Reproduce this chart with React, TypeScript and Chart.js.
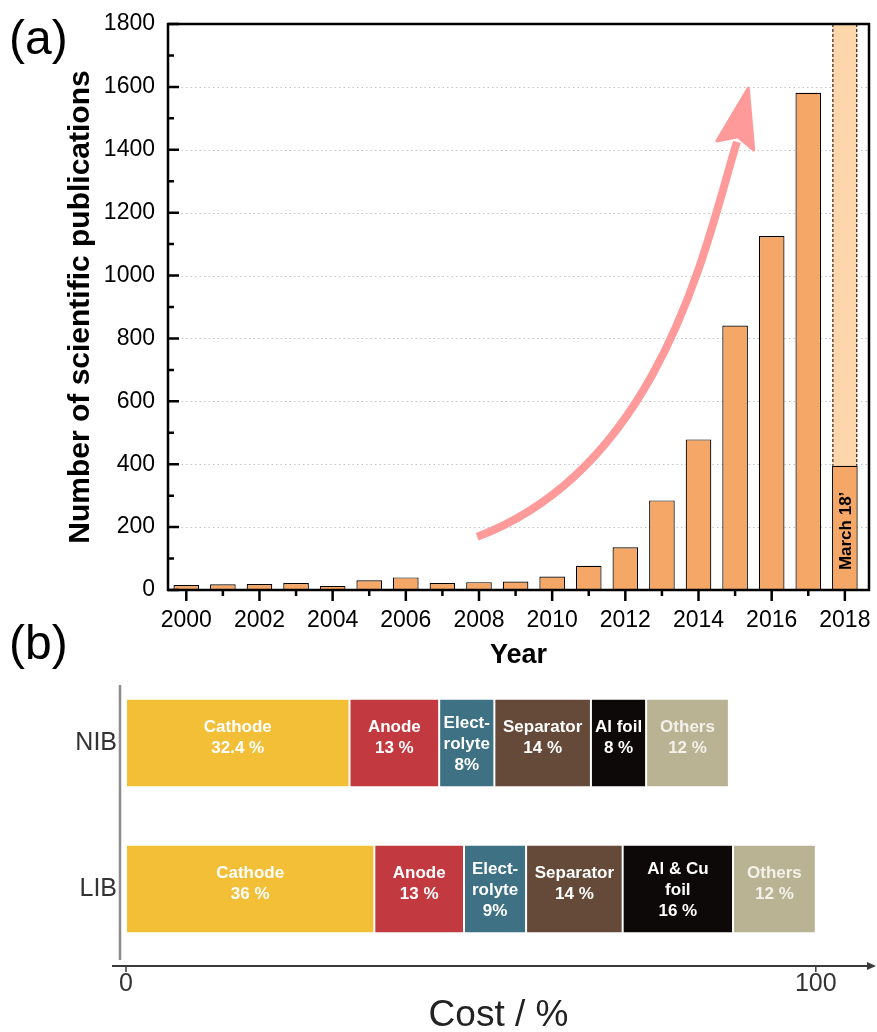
import React, { useEffect, useRef } from 'react';
import { Chart, registerables } from 'chart.js';

Chart.register(...registerables);

// ---------- Panel (a) data ----------
const years = [2000, 2001, 2002, 2003, 2004, 2005, 2006, 2007, 2008, 2009, 2010, 2011, 2012, 2013, 2014, 2015, 2016, 2017, 2018];
const publications = [16, 18, 19, 22, 13, 31, 40, 22, 25, 27, 43, 77, 136, 285, 479, 841, 1126, 1581, 395];
const projectionYear = 2018;
const projectionValue = 1800;
const projectionNote = 'March 18\u2019';
const yMax = 1800;
const yStep = 200;
const xMin = 1999.5;
const xMax = 2018.66;
const xStep = 2;
// trend arrow annotation, in data units (year, publications)
const arrowPath = [[2007.95, 169], [2013.06, 394], [2014.26, 1129], [2015.05, 1425]];
const arrowHead = [[2015.36, 1596], [2015.51, 1399], [2015.08, 1441], [2014.5, 1428]];

// ---------- Panel (b) data ----------
const batteryTypes = ['NIB', 'LIB'];
const componentNames = ['Cathode', 'Anode', 'Electrolyte', 'Separator', 'Foil', 'Others'];
const nibCost = [32.4, 13, 8, 14, 8, 12];
const libCost = [36, 13, 9, 14, 16, 12];
const nibLabels = [['Cathode', '32.4 %'], ['Anode', '13 %'], ['Elect-', 'rolyte', '8%'], ['Separator', '14 %'], ['Al foil', '8 %'], ['Others', '12 %']];
const libLabels = [['Cathode', '36 %'], ['Anode', '13 %'], ['Elect-', 'rolyte', '9%'], ['Separator', '14 %'], ['Al & Cu', 'foil', '16 %'], ['Others', '12 %']];
const componentColors = ['#F2BF37', '#C23A40', '#3E7184', '#654A3A', '#0D0908', '#B9B293'];
const componentTextColors = ['#ffffff', '#ffffff', '#ffffff', '#ffffff', '#ffffff', '#f3f1ea'];
const costTicks = [0, 100];
const costMax = 108;

const FONT = "'Liberation Sans', Arial, Helvetica, sans-serif";

const noPad = (s: any) => {
  s.paddingTop = 0;
  s.paddingBottom = 0;
  s.paddingLeft = 0;
  s.paddingRight = 0;
};

const frameA = {
  id: 'frameA',
  beforeDatasetsDraw(chart: any) {
    const { ctx, chartArea: ca, scales } = chart;
    const y = scales.y;
    ctx.save();
    ctx.strokeStyle = '#c6c6c6';
    ctx.lineWidth = 1;
    ctx.setLineDash([1.5, 3]);
    y.ticks.forEach((t: any) => {
      if (t.value <= 0 || t.value >= yMax) return;
      const py = Math.round(y.getPixelForValue(t.value)) + 0.5;
      ctx.beginPath();
      ctx.moveTo(ca.left, py);
      ctx.lineTo(ca.right, py);
      ctx.stroke();
    });
    ctx.restore();
  },
  afterDatasetsDraw(chart: any) {
    const { ctx, chartArea: ca, scales } = chart;
    const x = scales.x;
    const y = scales.y;
    ctx.save();

    // dashed outline of the projected 2018 bar
    const proj = chart.getDatasetMeta(1).data[0];
    const real = chart.getDatasetMeta(0).data[years.indexOf(projectionYear)];
    if (proj && real) {
      const p = proj.getProps(['x', 'y', 'width']);
      const r = real.getProps(['y']);
      ctx.strokeStyle = '#000';
      ctx.lineWidth = 1;
      ctx.setLineDash([3, 2]);
      [p.x - p.width / 2 + 0.5, p.x + p.width / 2 - 0.5].forEach((lx) => {
        ctx.beginPath();
        ctx.moveTo(lx, Math.max(p.y, ca.top));
        ctx.lineTo(lx, r.y);
        ctx.stroke();
      });
      ctx.setLineDash([]);
      // vertical note inside the bar
      const rr = real.getProps(['x', 'y', 'base']);
      ctx.save();
      ctx.translate(rr.x + 1, (rr.y + rr.base) / 2 + 3);
      ctx.rotate(-Math.PI / 2);
      ctx.fillStyle = '#000';
      ctx.font = `bold 17px ${FONT}`;
      ctx.textAlign = 'center';
      ctx.textBaseline = 'middle';
      ctx.fillText(projectionNote, 0, 0);
      ctx.restore();
    }

    // trend arrow
    const P = (d: number[]) => [x.getPixelForValue(d[0]), y.getPixelForValue(d[1])];
    const a = arrowPath.map(P);
    ctx.strokeStyle = '#FF9A9A';
    ctx.fillStyle = '#FF9A9A';
    ctx.lineWidth = 8;
    ctx.lineCap = 'butt';
    ctx.beginPath();
    ctx.moveTo(a[0][0], a[0][1]);
    ctx.bezierCurveTo(a[1][0], a[1][1], a[2][0], a[2][1], a[3][0], a[3][1]);
    ctx.stroke();
    const h = arrowHead.map(P);
    ctx.lineWidth = 3;
    ctx.lineJoin = 'round';
    ctx.beginPath();
    ctx.moveTo(h[0][0], h[0][1]);
    for (let i = 1; i < h.length; i++) ctx.lineTo(h[i][0], h[i][1]);
    ctx.closePath();
    ctx.fill();
    ctx.stroke();

    // frame
    ctx.strokeStyle = '#000';
    ctx.lineWidth = 2.5;
    ctx.lineJoin = 'miter';
    ctx.strokeRect(ca.left, ca.top, ca.right - ca.left, ca.bottom - ca.top);

    // y ticks (inside)
    const yt = y.ticks.map((t: any) => t.value);
    ctx.beginPath();
    yt.forEach((v: number, i: number) => {
      const py = y.getPixelForValue(v);
      ctx.moveTo(ca.left, py);
      ctx.lineTo(ca.left + 11, py);
      if (i < yt.length - 1) {
        const pm = y.getPixelForValue((v + yt[i + 1]) / 2);
        ctx.moveTo(ca.left, pm);
        ctx.lineTo(ca.left + 6, pm);
      }
    });
    // x ticks (outside)
    const xt = x.ticks.map((t: any) => t.value);
    xt.forEach((v: number, i: number) => {
      const px = x.getPixelForValue(v);
      ctx.moveTo(px, ca.bottom);
      ctx.lineTo(px, ca.bottom + 11);
      if (i < xt.length - 1) {
        const pm = x.getPixelForValue((v + xt[i + 1]) / 2);
        ctx.moveTo(pm, ca.bottom);
        ctx.lineTo(pm, ca.bottom + 6);
      }
    });
    ctx.stroke();
    ctx.restore();
  },
};

const frameB = {
  id: 'frameB',
  afterDatasetsDraw(chart: any) {
    const { ctx, chartArea: ca, scales } = chart;
    const x = scales.x;
    ctx.save();
    // segment labels
    chart.data.datasets.forEach((ds: any, i: number) => {
      const meta = chart.getDatasetMeta(i);
      meta.data.forEach((bar: any, j: number) => {
        const lines = (j === 0 ? nibLabels : libLabels)[i];
        const b = bar.getProps(['x', 'y', 'base']);
        const cx = (b.x + b.base) / 2;
        const lh = 21;
        const off = lines.length === 2 ? -5 : 1;
        const cy = b.y + off - ((lines.length - 1) * lh) / 2;
        ctx.fillStyle = componentTextColors[i];
        ctx.font = `bold 17px ${FONT}`;
        ctx.textAlign = 'center';
        ctx.textBaseline = 'middle';
        lines.forEach((ln: string, k: number) => ctx.fillText(ln, cx, cy + k * lh));
      });
    });
    // y axis line
    ctx.strokeStyle = '#8c8c8c';
    ctx.lineWidth = 2.5;
    ctx.beginPath();
    ctx.moveTo(ca.left - 6, ca.top + 15);
    ctx.lineTo(ca.left - 6, ca.bottom - 2);
    ctx.stroke();
    // x axis line with arrow
    const ay = ca.bottom + 4;
    const endX = chart.width - 1;
    ctx.strokeStyle = '#3a3a3a';
    ctx.fillStyle = '#3a3a3a';
    ctx.lineWidth = 2;
    ctx.beginPath();
    ctx.moveTo(ca.left - 14, ay);
    ctx.lineTo(endX - 6, ay);
    ctx.stroke();
    ctx.beginPath();
    ctx.moveTo(endX, ay);
    ctx.lineTo(endX - 9, ay - 4);
    ctx.lineTo(endX - 9, ay + 4);
    ctx.closePath();
    ctx.fill();
    ctx.lineWidth = 1.5;
    ctx.beginPath();
    x.ticks.forEach((t: any) => {
      const px = x.getPixelForValue(t.value);
      ctx.moveTo(px, ay);
      ctx.lineTo(px, ay + 6);
    });
    ctx.stroke();
    ctx.restore();
  },
};

export default function App() {
  const aRef = useRef<HTMLCanvasElement | null>(null);
  const bRef = useRef<HTMLCanvasElement | null>(null);

  useEffect(() => {
    const chartA = new Chart(aRef.current as HTMLCanvasElement, {
      type: 'bar',
      data: {
        datasets: [
          {
            label: 'Publications',
            data: years.map((yr, i) => ({ x: yr, y: publications[i] })),
            backgroundColor: '#F4A766',
            borderColor: '#000',
            borderWidth: 1.2,
            barPercentage: 0.7,
            categoryPercentage: 1,
            grouped: false,
          } as any,
          {
            label: 'Projection',
            data: [{ x: projectionYear, y: projectionValue }],
            backgroundColor: '#FDD6AC',
            borderWidth: 0,
            barPercentage: 0.68,
            categoryPercentage: 1,
            grouped: false,
          } as any,
        ],
      },
      options: {
        responsive: false,
        animation: false,
        layout: { padding: { left: 0, right: 8, top: 24, bottom: 0 } },
        plugins: { legend: { display: false }, tooltip: { enabled: false } },
        scales: {
          x: {
            type: 'linear',
            offset: false,
            min: xMin,
            max: xMax,
            afterFit: (s: any) => { s.height = 90; noPad(s); },
            grid: { display: false, drawTicks: false, offset: false },
            border: { display: false },
            ticks: {
              stepSize: xStep,
              includeBounds: false,
              autoSkip: false,
              maxRotation: 0,
              callback: (v: any) => String(v),
              font: { family: FONT, size: 23 },
              color: '#000',
              padding: 17,
            },
            title: {
              display: true,
              text: 'Year',
              font: { family: FONT, size: 27, weight: 'bold' },
              color: '#000',
              padding: { top: 0, bottom: 8 },
            },
          },
          y: {
            min: 0,
            max: yMax,
            afterFit: (s: any) => { s.width = 168; noPad(s); },
            grid: { display: false, drawTicks: false },
            border: { display: false },
            ticks: {
              stepSize: yStep,
              callback: (v: any) => String(v),
              font: { family: FONT, size: 23 },
              color: '#000',
              padding: 13,
            },
            title: {
              display: true,
              text: 'Number of scientific publications',
              font: { family: FONT, size: 30, weight: 'bold' },
              color: '#000',
              padding: { top: 63, bottom: 0 },
            },
          },
        },
      } as any,
      plugins: [frameA],
    });

    const chartB = new Chart(bRef.current as HTMLCanvasElement, {
      type: 'bar',
      data: {
        labels: batteryTypes,
        datasets: componentNames.map((name, i) => ({
          label: name,
          data: [nibCost[i], libCost[i]],
          backgroundColor: componentColors[i],
          borderColor: '#ffffff',
          borderWidth: { left: 1, right: 1, top: 0, bottom: 0 },
          borderSkipped: false,
          barPercentage: 0.596,
          categoryPercentage: 1,
        })) as any,
      },
      options: {
        indexAxis: 'y',
        responsive: false,
        animation: false,
        layout: { padding: { left: 0, right: 6, top: 10, bottom: 0 } },
        plugins: { legend: { display: false }, tooltip: { enabled: false } },
        scales: {
          x: {
            stacked: true,
            min: 0,
            max: costMax,
            afterFit: (s: any) => { s.height = 70; noPad(s); },
            afterBuildTicks: (s: any) => { s.ticks = costTicks.map((v) => ({ value: v })); },
            grid: { display: false, drawTicks: false },
            border: { display: false },
            ticks: {
              callback: (v: any) => String(v),
              font: { family: FONT, size: 25 },
              color: '#333',
              padding: 7,
              maxRotation: 0,
            },
            title: {
              display: true,
              text: 'Cost / %',
              font: { family: FONT, size: 37, lineHeight: 0.8 },
              color: '#222',
              padding: { top: 0, bottom: 1 },
            },
          },
          y: {
            stacked: true,
            afterFit: (s: any) => { s.width = 126; noPad(s); },
            grid: { display: false, drawTicks: false },
            border: { display: false },
            ticks: {
              font: { family: FONT, size: 25 },
              color: '#333',
              padding: 9,
            },
          },
        },
      } as any,
      plugins: [frameB],
    });

    return () => {
      chartA.destroy();
      chartB.destroy();
    };
  }, []);

  const panelLabel: React.CSSProperties = {
    position: 'absolute',
    fontFamily: FONT,
    fontSize: 48,
    lineHeight: 1,
    color: '#000',
  };

  return (
    <div style={{ position: 'absolute', left: 0, top: 0, width: 877, height: 1032, background: '#fff', overflow: 'hidden' }}>
      <canvas ref={aRef} width={877} height={680} style={{ position: 'absolute', left: 0, top: 0, width: 877, height: 680 }} />
      <canvas ref={bRef} width={877} height={372} style={{ position: 'absolute', left: 0, top: 660, width: 877, height: 372 }} />
      <div style={{ ...panelLabel, left: 9, top: 14 }}>(a)</div>
      <div style={{ ...panelLabel, left: 9, top: 619 }}>(b)</div>
    </div>
  );
}
